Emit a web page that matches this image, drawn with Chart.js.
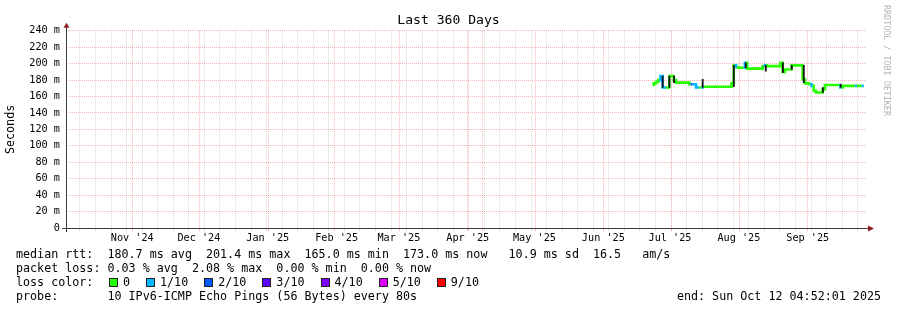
<!DOCTYPE html>
<html>
<head>
<meta charset="utf-8">
<title>Last 360 Days</title>
<script src="https://cdn.jsdelivr.net/npm/chart.js@4.4.1/dist/chart.umd.min.js"></script>
<style>
  body { margin: 0; background: #fff; }
  #wrap { position: relative; width: 897px; height: 310px; font-family: 'DejaVu Sans Mono', monospace; }
  #wrap canvas { position: absolute; left: 0; top: 0; }
  .row { position: absolute; font-size: 11.7px; line-height: 14px; white-space: pre; color: #000; }
  .sw { position: absolute; width: 7px; height: 7px; border: 1px solid #222; }
  #mark { position: absolute; left: 882px; top: 5px; writing-mode: vertical-rl; font-size: 8.4px; color: #b4b4b4; white-space: pre; }
</style>
</head>
<body>
<div id="wrap">
  <canvas id="smokeChart" width="897" height="310"></canvas>
  <div id="legend"></div>
  <div id="mark">RRDTOOL / TOBI OETIKER</div>
</div>
<script>
// graph covers the 360 days before the end time
const endTime = Date.UTC(2025, 9, 12, 4, 52, 1);
const spanDays = 360;
const startTime = endTime - spanDays * 86400000;

const monthStarts = ['2024-11-01', '2024-12-01', '2025-01-01', '2025-02-01', '2025-03-01', '2025-04-01',
                     '2025-05-01', '2025-06-01', '2025-07-01', '2025-08-01', '2025-09-01', '2025-10-01'];
const monthLabels = ["Nov '24", "Dec '24", "Jan '25", "Feb '25", "Mar '25", "Apr '25",
                     "May '25", "Jun '25", "Jul '25", "Aug '25", "Sep '25"];
const labelDates = ['2024-11-16', '2024-12-16', '2025-01-16', '2025-02-16', '2025-03-16', '2025-04-16',
                    '2025-05-16', '2025-06-16', '2025-07-16', '2025-08-16', '2025-09-16'];
const firstWeekLine = '2024-10-20';

// median rtt (ms), one value per day, starting at day 264 of the range
const medianStartDay = 264;
const medianMs = [
  174, 176, 178, 180, 185, 171, 171, 171, 185, 185,
  180, 177, 177, 177, 177, 177, 177, 175, 175, 175,
  171, 171, 171, 172, 172, 172, 172, 172, 172, 172,
  172, 172, 172, 172, 172, 172, 176, 198, 196, 195,
  195, 195, 201, 194, 194, 194, 194, 194, 194, 194,
  197, 198, 197, 197, 197, 197, 197, 197, 201, 190,
  193, 193, 193, 198, 198, 198, 198, 198, 181, 176,
  176, 175, 173, 167, 165, 165, 165, 169, 174, 174,
  174, 174, 174, 174, 174, 171, 173, 173, 173, 173,
  173, 173, 173, 173, 173, 173
];
// packet loss per day, in tenths
const lossTenths = [
  0, 0, 0, 0, 1, 1, 1, 0, 0, 0,
  0, 0, 0, 0, 0, 0, 0, 0, 2, 1,
  1, 1, 0, 1, 0, 0, 0, 0, 0, 0,
  0, 0, 0, 0, 0, 0, 0, 0, 1, 0,
  0, 0, 1, 0, 0, 0, 0, 0, 0, 0,
  0, 1, 0, 0, 0, 0, 0, 0, 0, 0,
  0, 0, 0, 0, 0, 0, 0, 0, 0, 0,
  0, 0, 1, 0, 0, 0, 0, 0, 0, 0,
  0, 0, 0, 0, 0, 1, 0, 0, 0, 0,
  0, 0, 1, 0, 0, 1
];

// smoke (spread of the pings) where it shows beyond the median line
const smokeDays = [268.5, 271.5, 273.6, 286.5, 300.5, 305.9, 314.9, 322.6, 326.6, 332.0, 340.6, 348.6];
const smokeLow  = [171, 171, 177, 171, 172, 195, 191, 189, 193, 177, 165, 171];
const smokeHigh = [185, 185, 185, 181, 198, 201, 198, 201, 198, 198, 171, 175];

const lossColors = { 0: '#26ff00', 1: '#00b8ff', 2: '#0059ff', 3: '#5e00ff', 4: '#7e00ff', 5: '#dd00ff', 9: '#ff0000' };
const lossLegend = ['0', '1/10', '2/10', '3/10', '4/10', '5/10', '9/10'];
const lossLegendKeys = [0, 1, 2, 3, 4, 5, 9];

const legendRows = [
  'median rtt:  180.7 ms avg  201.4 ms max  165.0 ms min  173.0 ms now   10.9 ms sd  16.5   am/s',
  'packet loss: 0.03 % avg  2.08 % max  0.00 % min  0.00 % now',
  'loss color:',
  'probe:       10 IPv6-ICMP Echo Pings (56 Bytes) every 80s'
];
const endText = 'end: Sun Oct 12 04:52:01 2025';

const dayOf = s => (Date.parse(s + 'T00:00:00Z') - startTime) / 86400000;

const MGRID = 'rgba(235,120,120,0.55)';
const GRID = 'rgba(170,170,170,0.45)';
const NONE = 'rgba(0,0,0,0)';
const FONT = "'DejaVu Sans Mono', monospace";

function buildXTicks(scale) {
  const ticks = [];
  for (let d = dayOf(firstWeekLine); d < spanDays; d += 7) ticks.push({ value: d, kind: 'week' });
  monthStarts.forEach(s => ticks.push({ value: dayOf(s), kind: 'month' }));
  labelDates.forEach((s, i) => ticks.push({ value: dayOf(s), kind: 'label', text: monthLabels[i] }));
  scale.ticks = ticks;
}

const xGridColor = ctx => {
  const k = ctx.tick && ctx.tick.kind;
  return k === 'month' ? MGRID : k === 'week' ? GRID : NONE;
};
const yGridColor = ctx => (ctx.tick && ctx.tick.value % 20 === 0) ? MGRID : GRID;

const axisArrows = {
  id: 'axisArrows',
  afterDatasetsDraw(chart) {
    const { ctx, chartArea: a } = chart;
    const y0 = a.bottom + 0.5, x0 = a.left + 0.5;
    ctx.save();
    ctx.strokeStyle = '#3c3c3c';
    ctx.lineWidth = 1;
    ctx.beginPath();
    ctx.moveTo(a.left - 4, y0); ctx.lineTo(a.right + 3, y0);
    ctx.moveTo(x0, a.bottom + 4); ctx.lineTo(x0, a.top - 4);
    ctx.stroke();
    ctx.fillStyle = '#8e1e1e';
    ctx.beginPath();
    ctx.moveTo(a.right + 8, y0); ctx.lineTo(a.right + 2, y0 - 3); ctx.lineTo(a.right + 2, y0 + 3);
    ctx.closePath(); ctx.fill();
    ctx.beginPath();
    ctx.moveTo(x0, a.top - 8); ctx.lineTo(x0 - 3, a.top - 3); ctx.lineTo(x0 + 3, a.top - 3);
    ctx.closePath(); ctx.fill();
    ctx.restore();
  }
};

new Chart(document.getElementById('smokeChart'), {
  type: 'line',
  data: {
    datasets: [
      {
        type: 'bar',
        label: 'smoke',
        data: smokeDays.map((d, i) => ({ x: d, y: [smokeLow[i], smokeHigh[i]] })),
        backgroundColor: '#161616',
        borderWidth: 0,
        barThickness: 1.2
      },
      {
        label: 'median rtt',
        data: medianMs.map((v, i) => ({ x: medianStartDay + i, y: v })),
        borderWidth: 2.6,
        pointRadius: 0,
        stepped: 'middle',
        borderColor: lossColors[0],
        segment: {
          borderColor: ctx => lossColors[lossTenths[ctx.p1DataIndex]]
        }
      }
    ]
  },
  options: {
    responsive: false,
    animation: false,
    layout: { padding: 0 },
    plugins: {
      legend: { display: false },
      tooltip: { enabled: false },
      title: {
        display: true,
        text: 'Last 360 Days',
        color: '#000',
        font: { family: FONT, size: 13.1, weight: 'normal' },
        padding: { top: 12.5, bottom: 2.6 }
      }
    },
    scales: {
      x: {
        type: 'linear',
        min: 0,
        max: spanDays,
        offset: false,
        afterBuildTicks: buildXTicks,
        afterFit: s => { s.height = 82; },
        grid: { color: xGridColor, tickColor: xGridColor, tickLength: 3, lineWidth: 1 },
        border: { display: false, dash: [1, 1] },
        ticks: {
          autoSkip: false,
          maxRotation: 0,
          padding: 1,
          color: '#000',
          font: { family: FONT, size: 10.2 },
          callback: (v, i, ticks) => ticks[i].kind === 'label' ? ticks[i].text : ''
        }
      },
      y: {
        min: 0,
        max: 240,
        afterFit: s => { s.width = 66; },
        grid: { color: yGridColor, drawTicks: false, lineWidth: 1 },
        border: { display: false, dash: [1, 1] },
        ticks: {
          stepSize: 10,
          padding: 6,
          color: '#000',
          font: { family: FONT, size: 10.2 },
          callback: v => v % 20 ? '' : (v === 0 ? '0' : v + ' m')
        },
        title: {
          display: true,
          text: 'Seconds',
          color: '#000',
          font: { family: FONT, size: 11.7 },
          padding: { top: 4, bottom: 0 }
        }
      },
      // empty right-hand margin that holds the arrow and the watermark
      margin: {
        position: 'right',
        grid: { display: false },
        border: { display: false },
        ticks: { display: false },
        afterFit: s => { s.width = 31; }
      }
    }
  },
  plugins: [axisArrows]
});

// legend rows below the graph
const legend = document.getElementById('legend');
const rowTops = [247, 261, 275, 289];
legendRows.forEach((t, i) => {
  const el = document.createElement('div');
  el.className = 'row';
  el.style.left = '16px';
  el.style.top = rowTops[i] + 'px';
  el.textContent = t;
  legend.appendChild(el);
});
let sx = 109;
lossLegend.forEach((t, i) => {
  const sw = document.createElement('div');
  sw.className = 'sw';
  sw.style.left = sx + 'px';
  sw.style.top = (rowTops[2] + 3) + 'px';
  sw.style.background = lossColors[lossLegendKeys[i]];
  legend.appendChild(sw);
  const lab = document.createElement('div');
  lab.className = 'row';
  lab.style.left = (sx + 14) + 'px';
  lab.style.top = rowTops[2] + 'px';
  lab.textContent = t;
  legend.appendChild(lab);
  sx += 14 + t.length * 7.04 + 16;
});
const endEl = document.createElement('div');
endEl.className = 'row';
endEl.style.right = '16px';
endEl.style.top = rowTops[3] + 'px';
endEl.textContent = endText;
legend.appendChild(endEl);
</script>
</body>
</html>
